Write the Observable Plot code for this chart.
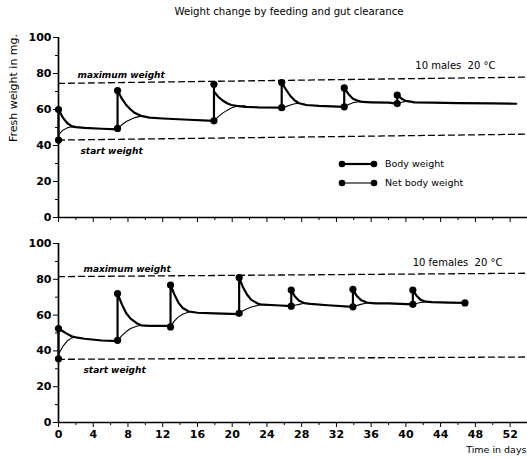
<!DOCTYPE html>
<html><head><meta charset="utf-8">
<script src="https://cdn.jsdelivr.net/npm/d3@7"></script>
<script src="https://cdn.jsdelivr.net/npm/@observablehq/plot@0.6"></script>
<style>
body{margin:0;background:#fff;}
#wrap{position:relative;width:527px;height:460px;font-family:"DejaVu Sans",sans-serif;color:#000;overflow:hidden;}
#title{position:absolute;left:289px;top:6px;transform:translateX(-50%);white-space:nowrap;font-size:10.2px;}
#ylab{position:absolute;left:13px;top:88px;transform:translate(-50%,-50%) rotate(-90deg);white-space:nowrap;font-size:11px;}
.panel{position:absolute;left:0;}
#legend{position:absolute;left:338px;top:154px;font-size:9.5px;}
.lrow{display:flex;align-items:center;height:19px;}
.lrow svg{margin-right:7px;}
</style></head>
<body><div id="wrap">
<div id="title">Weight change by feeding and gut clearance</div>
<div id="ylab">Fresh weight in mg.</div>
<div id="top" class="panel" style="top:0"></div>
<div id="bot" class="panel" style="top:230px"></div>
<div id="legend"></div>
</div>
<script>
// ---- axis ticks ----
const xMajor = [0,4,8,12,16,20,24,28,32,36,40,44,48,52];
const xMinor = [2,6,10,14,18,22,26,30,34,38,42,46,50];
const yMajor = [0,20,40,60,80,100];
const yMinor = [10,30,50,70,90];
const refDays = [0,54];

// ---- males ----
const maleMax = [74.5,78];
const maleStart = [43,46.3];
const maleBodyDay = [0,0,0.5,1,1.5,2,3,5,6.8,6.8,6.8,7.3,7.8,8.3,8.8,9.5,10.5,12,15,17.9,17.9,17.9,18.4,18.9,19.4,19.9,20.5,21.5,23,25.7,25.7,26.2,26.7,27.2,27.7,28.5,30,32.9,32.9,33.4,33.9,34.4,35,36,38,39,39,39.5,40,41,43,46,50,52.7];
const maleBodyWt  = [43,60,55.5,52.5,50.8,50.2,49.8,49.3,49,49.5,70.5,66,62.5,60,58,56.5,55.5,55,54.3,53.7,74,70,67,65,63.5,62.5,62,61.5,61.2,61,75,71,67.5,65,63.5,62.5,62,61.5,72,68.5,66,65,64.2,64,63.8,63.3,68,66,64.8,64,63.8,63.5,63.4,63.2];
const maleNetDay = [0.1,0.5,1,1.5,2, 6.8,7.3,7.8,8.3,8.8,9.5, 17.9,18.4,18.9,19.4,19.9,20.5,21.5, 25.7,26.2,26.7,27.2,27.7,28.5, 32.9,33.4,33.9,34.4,35, 39,39.5,40,40.5];
const maleNetWt  = [46.5,48.5,49.8,50.4,50.2, 49.5,51.5,53.3,54.5,55.5,56.3, 53.7,56,58,59.5,60.8,61.8,62, 61,61.6,62.5,63.2,63.5,62.8, 61.5,62.8,63.8,64.2,64.2, 63.3,64,64.5,64.5];
const maleNetSeg = [1,1,1,1,1, 2,2,2,2,2,2, 3,3,3,3,3,3,3, 4,4,4,4,4,4, 5,5,5,5,5, 6,6,6,6];
const maleDotDay = [0,0,6.8,6.8,17.9,17.9,25.7,25.7,32.9,32.9,39,39];
const maleDotWt  = [60,43,70.5,49.5,74,53.7,75,61,72,61.5,68,63.3];

// ---- females ----
const femMax = [81.5,83.4];
const femStart = [35.3,36.6];
const femBodyDay = [0,0,0.5,1,1.5,2,3,5,6.8,6.8,6.8,7.3,7.8,8.3,9,9.5,10.5,12.9,12.9,12.9,13.3,13.8,14.3,15,16,18,20.8,20.8,20.8,21.2,21.7,22.2,23,23.5,25,26.8,26.8,27.2,27.7,28.3,29,31,33.9,33.9,34.3,34.8,35.5,36.5,38,40.8,40.8,41.2,41.7,42.3,43,45,46.8];
const femBodyWt  = [35.6,52.5,51,49.5,48.2,47.6,46.8,45.8,45.5,45.9,72,66,61,58,55.5,54.3,54,54,53.4,76.8,72,67,64,62,61.3,61,60.5,61,81,76,71.5,68.5,66.3,65.8,65.5,65,74,70.5,68,66.7,66.3,65.5,64.6,74.4,71,68.5,67,66.6,66.5,66,74,71,68.5,67.5,67.2,67,66.8];
const femNetDay = [0.1,0.5,1,1.5,2, 6.8,7.3,7.8,8.3,9,9.5, 12.9,13.3,13.8,14.3,15,15.5, 20.8,21.2,21.7,22.2,23,23.5, 26.8,27.2,27.7,28.3, 33.9,34.3,34.8,35.5, 40.8,41.2,41.7,42.3];
const femNetWt  = [39,42.5,45.5,47.3,47.6, 45.9,48.5,50.8,52.5,53.8,54.3, 53.4,56.5,59,60.5,61.7,62, 61,62.3,63.5,64.5,65.5,65.8, 65,65.5,66,66.6, 64.6,65.3,66,66.8, 66,66.5,67,67.4];
const femNetSeg = [1,1,1,1,1, 2,2,2,2,2,2, 3,3,3,3,3,3, 4,4,4,4,4,4, 5,5,5,5, 6,6,6,6, 7,7,7,7];
const femDotDay = [0,0,6.8,6.8,12.9,12.9,20.8,20.8,26.8,26.8,33.9,33.9,40.8,40.8,46.8];
const femDotWt  = [52.5,35.6,72,45.9,76.8,53.4,81,61,74,65,74.4,64.6,74,66,66.8];

// ---- legend ----
const legendLabels = ["Body weight","Net body weight"];
const legendWidths = [2.2,1.1];

const rows = (xs, ys, extra) => xs.map((d,i) => ({day:d, wt:ys[i], seg: extra ? extra[i] : 0}));

function panel(o){
  const body = rows(o.bodyDay, o.bodyWt);
  const net = rows(o.netDay, o.netWt, o.netSeg);
  const dots = rows(o.dotDay, o.dotWt);
  const maxL = rows(refDays, o.max);
  const startL = rows(refDays, o.start);
  const marks = [
    Plot.axisY({ticks: yMajor, tickSize:5, tickPadding:2, label:null, fontSize:11, fontWeight:"bold"}),
    Plot.axisY({ticks: yMinor, tickSize:3, text:null, label:null}),
    Plot.axisX({ticks: xMajor, tickSize:5, text: o.labels ? undefined : null, tickPadding:3, label:null, fontSize:11, fontWeight:"bold"}),
    Plot.axisX({ticks: xMinor, tickSize:3, text:null, label:null}),
    Plot.ruleX([0],{strokeWidth:1.7}),
    Plot.ruleY([0],{strokeWidth:1.7}),
    Plot.line(maxL,{x:"day",y:"wt",strokeDasharray:"6,4",strokeWidth:1.3}),
    Plot.line(startL,{x:"day",y:"wt",strokeDasharray:"6,4",strokeWidth:1.3}),
    Plot.text(["maximum weight"],{frameAnchor:"left", y:[o.max[0]], dx:o.maxDx, dy:-8, textAnchor:"start", fontStyle:"italic", fontWeight:"600", fontSize:9}),
    Plot.text(["start weight"],{frameAnchor:"left", y:[o.start[0]], dx:o.startDx, dy:o.startDy, textAnchor:"start", fontStyle:"italic", fontWeight:"600", fontSize:9}),
    Plot.text([o.caption],{frameAnchor:"top-right", dx:o.capDx, dy:o.capDy, textAnchor:"end", fontSize:10}),
    Plot.line(net,{x:"day",y:"wt",z:"seg",strokeWidth:1.1}),
    Plot.line(body,{x:"day",y:"wt",strokeWidth:2.2,strokeLinejoin:"round"}),
    Plot.dot(dots,{x:"day",y:"wt",r:3.6,fill:"black",stroke:"none"})
  ];
  if (o.labels) marks.push(Plot.text(["Time in days"],{frameAnchor:"bottom-right", dx:-1, dy:30, textAnchor:"end", fontSize:9.5}));
  return Plot.plot({
    width:527, height:230,
    marginLeft:58, marginRight:0, marginTop:o.mt, marginBottom:o.mb,
    x:{domain:[0,54]}, y:{domain:[0,100]},
    style:{fontFamily:"DejaVu Sans, sans-serif", color:"#000", background:"transparent"},
    marks
  });
}

document.getElementById("top").append(panel({
  bodyDay:maleBodyDay, bodyWt:maleBodyWt, netDay:maleNetDay, netWt:maleNetWt, netSeg:maleNetSeg,
  dotDay:maleDotDay, dotWt:maleDotWt, max:maleMax, start:maleStart,
  caption:"10 males  20 °C", capDx:-32, capDy:24, maxDx:19, startDx:22, startDy:11,
  mt:37, mb:13, labels:false
}));
document.getElementById("bot").append(panel({
  bodyDay:femBodyDay, bodyWt:femBodyWt, netDay:femNetDay, netWt:femNetWt, netSeg:femNetSeg,
  dotDay:femDotDay, dotWt:femDotWt, max:femMax, start:femStart,
  caption:"10 females  20 °C", capDx:-25, capDy:15, maxDx:25, startDx:25, startDy:11,
  mt:13, mb:38, labels:true
}));

// legend
const lg = document.getElementById("legend");
legendLabels.forEach((lab,i) => {
  const row = document.createElement("div");
  row.className = "lrow";
  const s = d3.create("svg").attr("width",40).attr("height",10);
  s.append("line").attr("x1",4).attr("x2",36).attr("y1",5).attr("y2",5).attr("stroke","black").attr("stroke-width",legendWidths[i]);
  s.append("circle").attr("cx",4).attr("cy",5).attr("r",3.3);
  s.append("circle").attr("cx",36).attr("cy",5).attr("r",3.3);
  row.append(s.node());
  const t = document.createElement("span"); t.textContent = lab; row.append(t);
  lg.append(row);
});
</script>
</body></html>
